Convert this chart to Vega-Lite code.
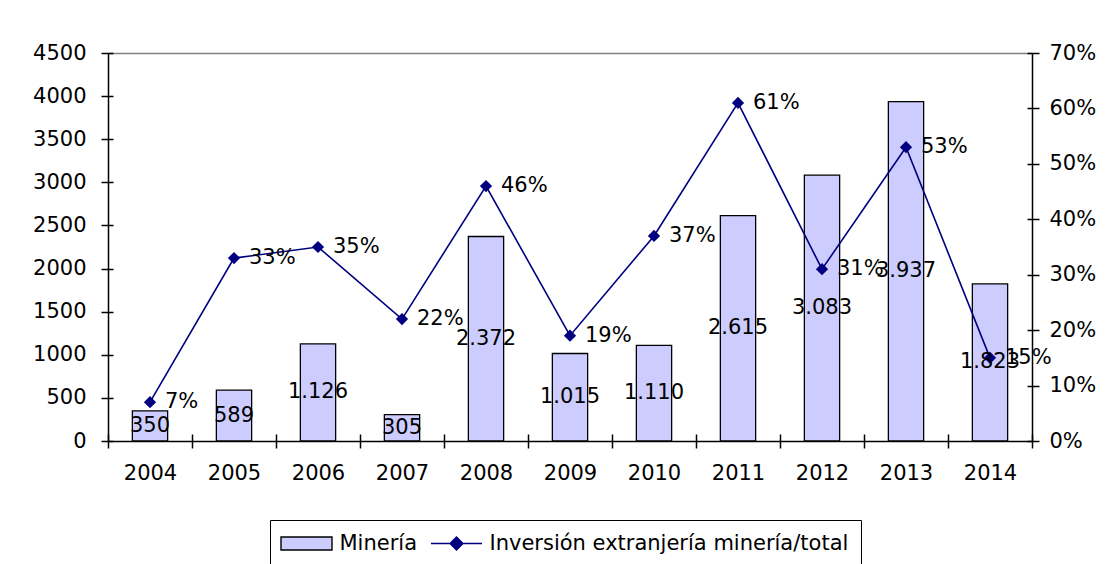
{
  "$schema": "https://vega.github.io/schema/vega-lite/v6.json",
  "width": 924,
  "height": 388,
  "autosize": {"type": "none"},
  "padding": {"left": 108, "top": 53, "right": 75, "bottom": 123},
  "background": "white",
  "config": {
    "font": "DejaVu Sans",
    "view": {"stroke": null},
    "locale": {"number": {"decimal": ",", "thousands": ".", "grouping": [3], "currency": ["$", ""]}},
    "axis": {
      "labelFont": "DejaVu Sans",
      "labelFontSize": 21,
      "labelColor": "black",
      "domainColor": "black",
      "tickColor": "black",
      "domainWidth": 1.5,
      "tickWidth": 1.5,
      "tickSize": 7
    },
    "legend": {
      "orient": "none",
      "legendX": 162,
      "legendY": 467,
      "direction": "horizontal",
      "strokeColor": "black",
      "fillColor": "white",
      "padding": 12.5,
      "labelFont": "DejaVu Sans",
      "labelFontSize": 21,
      "labelColor": "black",
      "labelLimit": 1000,
      "symbolSize": 400,
      "symbolOffset": 13,
      "symbolStrokeWidth": 1.4,
      "symbolOpacity": 1,
      "columnPadding": 10,
      "labelOffset": 22
    }
  },
  "data": {
    "values": [
      {"year": "2004", "mineria": 350, "pct": 0.07},
      {"year": "2005", "mineria": 589, "pct": 0.33},
      {"year": "2006", "mineria": 1126, "pct": 0.35},
      {"year": "2007", "mineria": 305, "pct": 0.22},
      {"year": "2008", "mineria": 2372, "pct": 0.46},
      {"year": "2009", "mineria": 1015, "pct": 0.19},
      {"year": "2010", "mineria": 1110, "pct": 0.37},
      {"year": "2011", "mineria": 2615, "pct": 0.61},
      {"year": "2012", "mineria": 3083, "pct": 0.31},
      {"year": "2013", "mineria": 3937, "pct": 0.53},
      {"year": "2014", "mineria": 1823, "pct": 0.15}
    ]
  },
  "layer": [
    {
      "mark": {"type": "bar", "fill": "#CCCCFF", "stroke": "black", "strokeWidth": 1.3, "width": {"band": 0.42}},
      "encoding": {
        "x": {
          "field": "year",
          "type": "nominal",
          "scale": {"paddingInner": 0, "paddingOuter": 0},
          "axis": {"title": null, "orient": "bottom", "labelAngle": 0, "tickBand": "extent", "labelPadding": 14}
        },
        "y": {
          "field": "mineria",
          "type": "quantitative",
          "scale": {"domain": [0, 4500], "nice": false},
          "axis": {
            "title": null,
            "orient": "left",
            "values": [0, 500, 1000, 1500, 2000, 2500, 3000, 3500, 4000, 4500],
            "format": "d",
            "labelPadding": 15,
            "grid": true,
            "gridColor": {"condition": {"test": "datum.value === 4500", "value": "#808080"}, "value": "transparent"},
            "gridWidth": 1.5
          }
        }
      }
    },
    {
      "mark": {"type": "line", "color": "#000080", "strokeWidth": 1.6, "point": {"shape": "diamond", "filled": true, "size": 150, "color": "#000080", "opacity": 1}},
      "encoding": {
        "x": {
          "field": "year",
          "type": "nominal",
          "axis": {"title": null, "orient": "bottom", "labels": false, "domain": false, "tickBand": "extent", "tickSize": -7}
        },
        "y": {
          "field": "pct",
          "type": "quantitative",
          "scale": {"domain": [0, 0.7], "nice": false},
          "axis": {
            "title": null,
            "orient": "right",
            "format": ".0%",
            "values": [0, 0.1, 0.2, 0.3, 0.4, 0.5, 0.6, 0.7],
            "labelPadding": 10
          }
        }
      }
    },
    {
      "mark": {"type": "text", "fontSize": 21, "font": "DejaVu Sans", "color": "black", "baseline": "middle"},
      "encoding": {
        "x": {"field": "year", "type": "nominal", "axis": null},
        "y": {
          "field": "mineria",
          "type": "quantitative",
          "scale": {"domain": [0, 9000], "nice": false},
          "axis": {"title": null, "orient": "left", "labels": false, "domain": false, "grid": false, "tickSize": -5, "values": [0, 1000, 2000, 3000, 4000, 5000, 6000, 7000, 8000, 9000]}
        },
        "text": {"field": "mineria", "type": "quantitative", "format": ",d"}
      }
    },
    {
      "mark": {"type": "text", "fontSize": 21, "font": "DejaVu Sans", "color": "black", "baseline": "middle", "align": "left", "dx": 15},
      "encoding": {
        "x": {"field": "year", "type": "nominal", "axis": null},
        "y": {
          "field": "pct",
          "type": "quantitative",
          "scale": {"domain": [0, 0.7], "nice": false},
          "axis": {"title": null, "orient": "right", "labels": false, "domain": false, "grid": false, "tickSize": -5, "values": [0, 0.1, 0.2, 0.3, 0.4, 0.5, 0.6, 0.7]}
        },
        "text": {"field": "pct", "type": "quantitative", "format": ".0%"}
      }
    },
    {
      "data": {"values": [{"series": "Minería"}, {"series": "Inversión extranjería minería/total"}]},
      "mark": {"type": "point", "filled": true, "opacity": 0},
      "encoding": {
        "fill": {
          "field": "series",
          "type": "nominal",
          "scale": {"domain": ["Minería", "Inversión extranjería minería/total"], "range": ["#CCCCFF", "#000080"]},
          "legend": {"title": null}
        },
        "stroke": {
          "field": "series",
          "type": "nominal",
          "scale": {"domain": ["Minería", "Inversión extranjería minería/total"], "range": ["black", "#000080"]},
          "legend": {"title": null}
        },
        "shape": {
          "field": "series",
          "type": "nominal",
          "scale": {"domain": ["Minería", "Inversión extranjería minería/total"], "range": ["M-2.55,-0.65H2.55V0.65H-2.55Z", "M-2.55,0H2.55M0,-0.65L0.65,0L0,0.65L-0.65,0Z"]},
          "legend": {"title": null}
        }
      }
    }
  ],
  "resolve": {"scale": {"y": "independent"}, "axis": {"x": "independent"}}
}
